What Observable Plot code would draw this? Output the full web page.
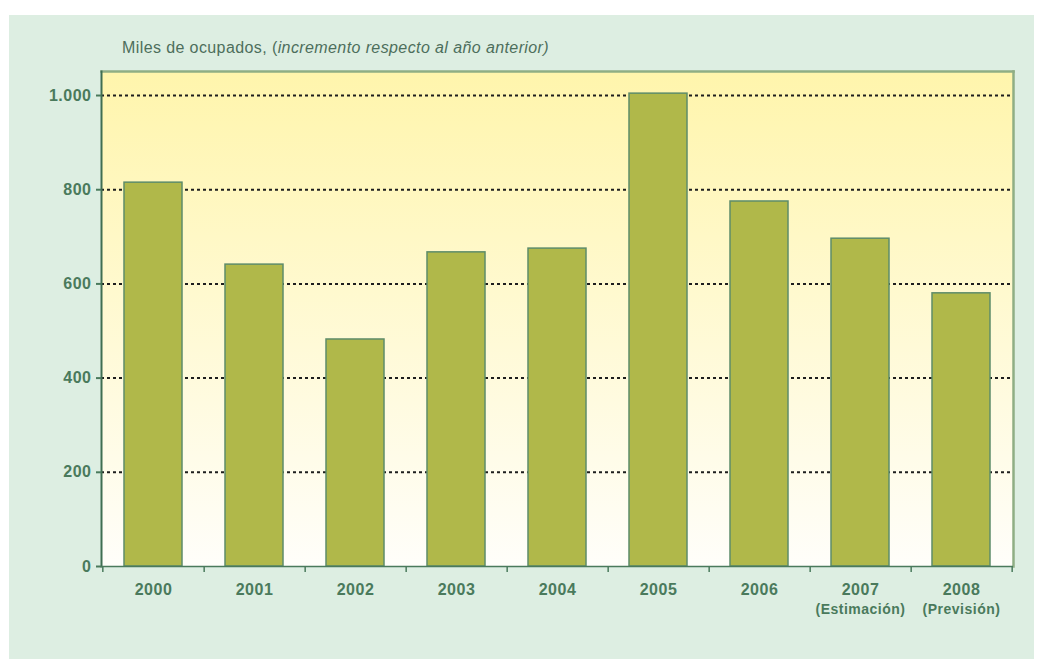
<!DOCTYPE html>
<html>
<head>
<meta charset="utf-8">
<script src="https://cdn.jsdelivr.net/npm/d3@7"></script>
<script src="https://cdn.jsdelivr.net/npm/@observablehq/plot@0.6"></script>
<style>
  body { margin: 0; background: #ffffff; }
  #wrap { position: relative; width: 1043px; height: 659px; overflow: hidden; font-family: "Liberation Sans", Arial, sans-serif; }
  #box { position: absolute; left: 9px; top: 15px; width: 1025px; height: 644px; background: #ddeee2; }
  #title { position: absolute; left: 122px; top: 39px; font-size: 16px; letter-spacing: 0.4px; color: #4d6e5c; white-space: nowrap; }
  #chart { position: absolute; left: 0; top: 0; }
</style>
</head>
<body>
<div id="wrap">
  <div id="box"></div>
  <div id="title">Miles de ocupados, (<i>incremento respecto al año anterior)</i></div>
  <div id="chart"></div>
</div>
<script>
const years = ["2000", "2001", "2002", "2003", "2004", "2005", "2006", "2007", "2008"];
const values = [815, 641, 482, 667, 675, 1004, 775, 696, 580];
const notes = ["", "", "", "", "", "", "", "(Estimación)", "(Previsión)"];
const yTicks = [0, 200, 400, 600, 800, 1000];

const data = years.map((y, i) => ({year: y, value: values[i], note: notes[i]}));
const noteOf = Object.fromEntries(data.map(d => [d.year, d.note]));

const W = 1043, H = 659;
const mL = 101, mR = 30, mT = 71, mB = 93;
const step = (W - mL - mR) / years.length;
const green = "#4a7a5c";
const fmt = d => d3.format(",")(d).replace(/,/g, ".");

const plot = Plot.plot({
  width: W, height: H,
  marginLeft: mL, marginRight: mR, marginTop: mT, marginBottom: mB,
  style: {background: "transparent", fontFamily: "Liberation Sans, Arial, sans-serif", letterSpacing: "0.5px"},
  x: {domain: years, paddingInner: 0.43, paddingOuter: 0.215, label: null},
  y: {domain: [0, 1051], label: null},
  marks: [
    Plot.frame({fill: "url(#bggrad)", stroke: "none"}),
    Plot.ruleY(yTicks.filter(d => d > 0), {stroke: "#1e1e1e", strokeWidth: 2, strokeDasharray: "3,3"}),
    Plot.barY(data, {x: "year", y: "value", fill: "#b0b84a", stroke: "#5e8c6a", strokeWidth: 1.5}),
    Plot.frame({anchor: "top", stroke: "#8fae84", strokeWidth: 2.5}),
    Plot.frame({anchor: "right", stroke: "#8fae84", strokeWidth: 2.5}),
    Plot.frame({anchor: "left", stroke: "#3f6e52", strokeWidth: 2, strokeDasharray: "4,2"}),
    Plot.ruleY([0], {stroke: green, strokeWidth: 1.5}),
    Plot.axisY({ticks: yTicks, tickFormat: fmt, tickSize: 5, tickPadding: 5, stroke: green, strokeWidth: 2, color: green, fontSize: 16, fontWeight: "bold", label: null}),
    Plot.axisX({tickSize: 0, tickPadding: 17, color: green, fontSize: 16, fontWeight: "bold", label: null}),
    Plot.axisX({ticks: years.filter(d => noteOf[d]), tickSize: 0, tickPadding: 38, color: green, fontSize: 14, fontWeight: "bold",
      tickFormat: d => noteOf[d], label: null}),
    Plot.axisX({ticks: years, tickSize: 6, text: null, dx: step / 2, stroke: green, strokeWidth: 1.5, label: null}),
    Plot.axisX({ticks: years.slice(0, 1), tickSize: 6, text: null, dx: -step / 2, stroke: green, strokeWidth: 1.5, label: null})
  ]
});

const svg = d3.select(plot);
const grad = svg.insert("defs", ":first-child").append("linearGradient")
  .attr("id", "bggrad").attr("x1", 0).attr("y1", 0).attr("x2", 0).attr("y2", 1);
grad.append("stop").attr("offset", "0%").attr("stop-color", "#fff5ac");
grad.append("stop").attr("offset", "100%").attr("stop-color", "#fffefa");

document.getElementById("chart").appendChild(plot);
</script>
</body>
</html>
